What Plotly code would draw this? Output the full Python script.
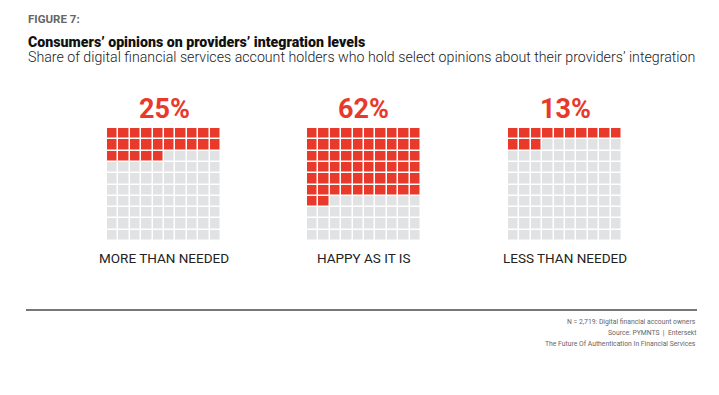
import plotly.graph_objects as go

categories = ["MORE THAN NEEDED", "HAPPY AS IT IS", "LESS THAN NEEDED"]
values = [25, 62, 13]
pct_labels = ["25%", "62%", "13%"]

W, H = 719, 395
RED = "#E8392A"
GREY = "#E1E2E4"

def px(x):
    return x / W

def py(y):
    return 1 - y / H

fig = go.Figure()

grid_left = [107, 307, 508]
grid_w = 114
grid_top, grid_bot = 128, 241

for i, (cat, v) in enumerate(zip(categories, values)):
    z = [[1 if r * 10 + c < v else 0 for c in range(10)] for r in range(10)]
    sfx = "" if i == 0 else str(i + 1)
    fig.add_trace(go.Heatmap(
        z=z, x=list(range(10)), y=list(range(10)),
        colorscale=[[0, GREY], [1, RED]], zmin=0, zmax=1,
        showscale=False, xgap=1.5, ygap=1.5, hoverinfo="skip",
        xaxis="x" + sfx, yaxis="y" + sfx,
    ))
    fig.layout["xaxis" + sfx] = dict(
        domain=[px(grid_left[i]), px(grid_left[i] + grid_w)],
        visible=False, range=[-0.5, 9.5], fixedrange=True,
        anchor="y" + sfx,
    )
    fig.layout["yaxis" + sfx] = dict(
        domain=[py(grid_bot), py(grid_top)],
        visible=False, range=[9.5, -0.5], fixedrange=True,
        anchor="x" + sfx,
    )
    cx = px(grid_left[i] + grid_w / 2)
    fig.add_annotation(x=cx, y=py(108.5), xref="paper", yref="paper",
                       text=pct_labels[i], showarrow=False, xanchor="center", yanchor="middle",
                       font=dict(family="Roboto", size=27, color=RED, weight="bold"))
    fig.add_annotation(x=cx, y=py(258), xref="paper", yref="paper",
                       text=cat, showarrow=False, xanchor="center", yanchor="middle",
                       font=dict(family="Roboto", size=13.5, color="#222222"))

# Titles
fig.add_annotation(x=px(26), y=py(18.5), xref="paper", yref="paper", text="FIGURE 7:",
                   showarrow=False, xanchor="left", yanchor="middle",
                   font=dict(family="Roboto", size=11.5, color="#666666", weight="bold"))
fig.add_annotation(x=px(26), y=py(42), xref="paper", yref="paper",
                   text="Consumers’ opinions on providers’ integration levels",
                   showarrow=False, xanchor="left", yanchor="middle",
                   font=dict(family="Roboto", size=14.2, color="#111111", weight=900))
fig.add_annotation(x=px(26), y=py(57), xref="paper", yref="paper",
                   text="Share of digital financial services account holders who hold select opinions about their providers’ integration",
                   showarrow=False, xanchor="left", yanchor="middle",
                   font=dict(family="Roboto", size=14.2, color="#222222", weight=300))

# Divider
fig.add_shape(type="line", xref="paper", yref="paper", x0=px(26), x1=px(697),
              y0=py(310), y1=py(310), line=dict(color="#777777", width=2))

footer = ["N = 2,719: Digital financial account owners",
          "Source: PYMNTS  |  Entersekt",
          "The Future Of Authentication In Financial Services"]
for j, t in enumerate(footer):
    fig.add_annotation(x=px(698), y=py(322 + 11 * j), xref="paper", yref="paper", text=t,
                       showarrow=False, xanchor="right", yanchor="middle",
                       font=dict(family="Roboto", size=6.8, color="#666666"))

fig.update_layout(width=W, height=H, margin=dict(l=0, r=0, t=0, b=0),
                  paper_bgcolor="white", plot_bgcolor="white", showlegend=False)

fig.write_html("out.html", config={"displayModeBar": False},
               post_script="document.body.style.margin='0px';")
